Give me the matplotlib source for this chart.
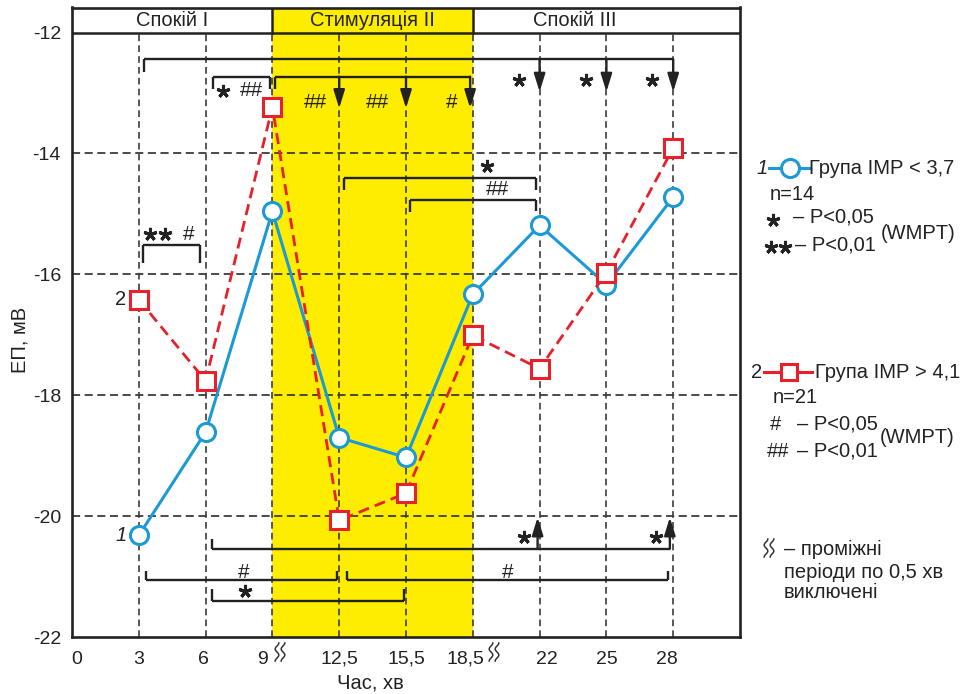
import numpy as np
import matplotlib.pyplot as plt
from matplotlib.lines import Line2D
from matplotlib.transforms import ScaledTranslation

plt.rcParams['font.family'] = ['Liberation Sans', 'DejaVu Sans']

# data
x_labels = ['0', '3', '6', '9', '12,5', '15,5', '18,5', '22', '25', '28']
group1 = [-20.32, -18.61, -14.96, -18.70, -19.03, -16.33, -15.19, -16.17, -14.72]
group2 = [-16.42, -17.76, -13.23, -20.07, -19.62, -17.01, -17.56, -15.97, -13.91]
phases = ['Спокій I', 'Стимуляція II', 'Спокій III']
y_ticks = [-12, -14, -16, -18, -20, -22]

blue = '#1b9ad6'
red = '#e8202a'
yellow = '#ffed00'
ink = '#222222'
grid_c = '#3c3c3c'
FS = 14.5
STAR = dict(marker=(5, 2, 0), ms=9.5, mew=2.2, color=ink)

fig = plt.figure(figsize=(9.64, 6.94), dpi=100)
ax = fig.add_axes([72/964, 1-637/694, 668/964, 629.5/694])
ax.set_xlim(0, 10)
ax.set_ylim(-22, -11.585)

xs = np.arange(1, len(x_labels))

# stimulation band + header
ax.axvspan(3, 6, color=yellow, zorder=0, lw=0)
ax.axhline(-12, color=ink, lw=1.8, zorder=3)
for xv in [3, 6]:
    ax.plot([xv, xv], [-12, -11.585], color=ink, lw=1.8, zorder=3)
for txt, xc in zip(phases, [1.5, 4.5, 7.52]):
    ax.text(xc, -11.8, txt, ha='center', va='center', fontsize=FS, color=ink)

# grid
for xv in xs:
    ax.plot([xv, xv], [-22, -12], color=grid_c, lw=1.2, ls=(0, (4, 2.5)), zorder=1)
for yv in y_ticks[1:-1]:
    ax.plot([0, 10], [yv, yv], color=grid_c, lw=1.3, ls=(0, (4.5, 2.5)), zorder=1)

# series
ax.plot(xs, group1, color=blue, lw=2.2, marker='o', ms=13, mfc='white', mec=blue, mew=2.2, zorder=5)
ax.plot(xs, group2, color=red, lw=2.0, ls=(0, (4, 2.2)), marker='s', ms=13, mfc='white', mec=red, mew=2.2, zorder=6)
ax.text(1 - 0.27, group1[0], '1', fontsize=FS, style='italic', ha='center', va='center', color=ink)
ax.text(1 - 0.27, group2[0], '2', fontsize=FS, ha='center', va='center', color=ink)

# significance marks
def seg(xa, ya, xb, yb):
    ax.plot([xa, xb], [ya, yb], color=ink, lw=1.7, solid_capstyle='butt', zorder=4)

def arrow(x, y0, y1):
    ax.annotate('', xy=(x, y1), xytext=(x, y0),
                arrowprops=dict(arrowstyle='-|>,head_length=0.9,head_width=0.28', lw=1.7,
                                color=ink, shrinkA=0, shrinkB=0, mutation_scale=12), zorder=4)

def mark(x, y, s, step=0.22):
    if '*' in s:
        n = len(s)
        for i in range(n):
            ax.plot([x + (i - (n - 1) / 2) * step], [y], zorder=7, **STAR)
    else:
        ax.annotate(s, (x, y), xytext=(0, -0.36 * 15), textcoords='offset points', fontsize=15,
                    ha='center', va='baseline', color=ink, zorder=7)

# top brackets
seg(1.08, -12.65, 1.08, -12.44)
seg(1.08, -12.44, 9, -12.44)
for xv in [7, 8, 9]:
    arrow(xv, -12.44, -12.98)
    mark(xv - 0.31, -12.79, '*')

seg(2.11, -12.93, 2.11, -12.73)
seg(2.11, -12.73, 2.97, -12.73)
seg(2.97, -12.73, 2.97, -12.93)
mark(2.26, -12.97, '*')
mark(2.68, -12.93, '##')

seg(3.04, -12.93, 3.04, -12.73)
seg(3.04, -12.73, 5.96, -12.73)
for xv, s, xl in [(4, '##', 3.65), (5, '##', 4.58), (5.96, '#', 5.68)]:
    arrow(xv, -12.73, -13.25)
    mark(xl, -13.12, s)

# middle brackets
seg(4.07, -14.60, 4.07, -14.40)
seg(4.07, -14.40, 6.95, -14.40)
seg(6.95, -14.40, 6.95, -14.60)
mark(6.22, -14.21, '*')
seg(5.06, -14.97, 5.06, -14.77)
seg(5.06, -14.77, 6.95, -14.77)
seg(6.95, -14.77, 6.95, -14.95)
mark(6.37, -14.57, '##')

seg(1.06, -15.81, 1.06, -15.51)
seg(1.06, -15.51, 1.91, -15.51)
seg(1.91, -15.51, 1.91, -15.81)
mark(1.28, -15.33, '**')
mark(1.74, -15.31, '#')

# bottom brackets
seg(2.09, -20.38, 2.09, -20.54)
seg(2.09, -20.54, 8.95, -20.54)
for xv in [6.97, 8.95]:
    arrow(xv, -20.54, -20.02)
    mark(xv - 0.21, -20.34, '*')

seg(1.11, -20.91, 1.11, -21.06)
seg(1.11, -21.06, 3.97, -21.06)
seg(3.97, -21.06, 3.97, -20.91)
mark(2.57, -20.90, '#')
seg(4.12, -20.91, 4.12, -21.06)
seg(4.12, -21.06, 8.92, -21.06)
seg(8.92, -21.06, 8.92, -20.91)
mark(6.52, -20.90, '#')
seg(2.09, -21.21, 2.09, -21.41)
seg(2.09, -21.41, 4.97, -21.41)
seg(4.97, -21.41, 4.97, -21.21)
mark(2.59, -21.24, '*')

# axes styling
ax.set_xticks(np.arange(len(x_labels)))
ax.set_xticklabels(x_labels, fontsize=14, color=ink)
ax.set_yticks(y_ticks)
ax.set_yticklabels([str(v) for v in y_ticks], fontsize=14, color=ink)
ax.tick_params(length=0, pad=8)
ax.tick_params(axis='x', pad=10)
for lab, dx in zip(ax.get_xticklabels(), [5, 0, -2, -10, 0, 0, -7, 7, 0, -6]):
    lab.set_transform(lab.get_transform() + ScaledTranslation(dx / 100, 0, fig.dpi_scale_trans))
for sp in ax.spines.values():
    sp.set_linewidth(1.9)
    sp.set_color(ink)
ax.set_xlabel('Час, хв', fontsize=FS, color=ink)
ax.set_ylabel('ЕП, мВ', fontsize=FS, color=ink)
ax.xaxis.set_label_coords(0.447, -0.058)
ax.yaxis.set_label_coords(-0.063, 0.472)

# overlay in pixel coordinates for legend and break marks
ov = fig.add_axes([0, 0, 1, 1], zorder=10)
ov.set_xlim(0, 964)
ov.set_ylim(694, 0)
ov.axis('off')
ov.patch.set_alpha(0)

def squiggle(cx, cy):
    tt = np.linspace(-1, 1, 40)
    for off in (-3, 3):
        ov.plot(cx + off + 1.8 * np.sin(np.pi * 1.5 * tt), cy + 9 * tt, color='#333333', lw=1.1)

squiggle(280, 652)
squiggle(494, 652)
squiggle(769, 548)

t = dict(fontsize=FS, color=ink, va='center')
ov.text(762, 168, '1', style='italic', ha='center', **t)
ov.add_line(Line2D([769, 809], [168, 168], color=blue, lw=2.2))
ov.plot([790], [168], marker='o', ms=13, mfc='white', mec=blue, mew=2.2)
ov.text(809, 168, 'Група ІМР < 3,7', ha='left', **t)
ov.text(770, 194, 'n=14', ha='left', **t)
ov.plot([773], [220], **STAR)
ov.text(793, 217, '– P<0,05', ha='left', **t)
ov.plot([771], [247], **STAR)
ov.plot([785], [247], **STAR)
ov.text(795, 245, '– P<0,01', ha='left', **t)
ov.text(881, 233, '(WMPT)', ha='left', **t)

ov.text(757, 372, '2', ha='center', **t)
ov.add_line(Line2D([764, 812], [372, 372], color=red, lw=2.2))
ov.plot([789], [372], marker='s', ms=11.5, mfc='white', mec=red, mew=2.2)
ov.text(815, 372, 'Група ІМР > 4,1', ha='left', **t)
ov.text(773, 397, 'n=21', ha='left', **t)
ov.text(775, 424, '#', ha='center', **t)
ov.text(797, 424, '– P<0,05', ha='left', **t)
ov.text(778, 451, '##', ha='center', **t)
ov.text(797, 451, '– P<0,01', ha='left', **t)
ov.text(880, 437, '(WMPT)', ha='left', **t)

ov.text(784, 549, '– проміжні', ha='left', **t)
ov.text(784, 572, 'періоди по 0,5 хв', ha='left', **t)
ov.text(784, 593, 'виключені', ha='left', **t)

fig.savefig('out.png', dpi=100)
